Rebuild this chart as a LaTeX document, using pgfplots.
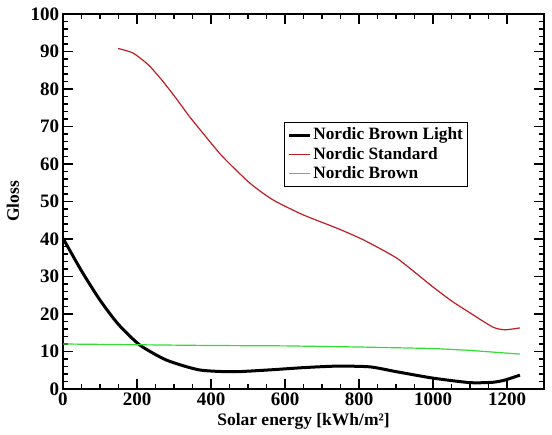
\documentclass[border=0pt]{standalone}
\usepackage{fontspec}
\setmainfont{Liberation Serif}
\usepackage{pgfplots}
\pgfplotsset{compat=1.18}
\definecolor{nred}{RGB}{190,30,35}
\definecolor{ngreen}{RGB}{50,220,50}
\begin{document}
\fontsize{17bp}{19.5bp}\selectfont\bfseries
\begin{tikzpicture}
\begin{axis}[
 scale only axis, width=481bp, height=375bp,
 xmin=0, xmax=1300, ymin=0, ymax=100,
 xtick={0,200,...,1200}, ytick={0,10,...,100},
 minor x tick num=3, minor y tick num=4,
 tick align=inside, xtick pos=both, ytick pos=both,
 major tick length=10bp, minor tick length=5bp,
 every tick/.style={black, line width=1.2bp},
 axis line style={line width=1.5bp},
 tick label style={font=\fontsize{19bp}{21bp}\selectfont\bfseries},
 /pgf/number format/assume math mode=true,
 /pgf/number format/1000 sep={},
 xticklabel style={yshift=2bp},
 yticklabel style={xshift=2bp},
 label style={font=\fontsize{17.5bp}{19bp}\selectfont\bfseries},
 xlabel={Solar energy [kWh/m²]},
 ylabel={Gloss},
 xlabel style={yshift=4bp},
 legend style={at={(0.459,0.712)}, anchor=north west, draw=black, line width=1bp,
   font=\fontsize{17.3bp}{19bp}\selectfont\bfseries, inner xsep=3bp, inner ysep=3bp,
   nodes={inner ysep=2.4bp, inner xsep=2bp}},
 legend cell align=left,
 legend image code/.code={\draw[#1] (0bp,0bp) -- (21bp,0bp);},
]
\addplot[black, line width=3bp, smooth, tension=0.4] coordinates {
 (0,40.2) (50,31.5) (100,23.7) (150,17.2) (208,11.7) (280,7.7) (368,5.1) (460,4.6)
 (559,5.1) (650,5.7) (740,6.1) (830,5.9) (902,4.6) (1000,2.9) (1100,1.7) (1162,1.8) (1195,2.4) (1235,3.7)};
\addlegendentry{Nordic Brown Light}
\addplot[nred, line width=1.2bp, smooth, tension=0.4] coordinates {
 (149,90.8) (189,89.6) (230,86.5) (267,82.4) (305,77.6) (343,72.5) (390,66.8) (432,61.9) (505,54.9) (568,50.4)
 (650,46.4) (740,42.9) (803,40.2) (850,37.8) (902,34.9) (950,31.2) (1000,27.2) (1050,23.5) (1100,20.3) (1162,16.5) (1195,15.8) (1235,16.3)};
\addlegendentry{Nordic Standard}
\addplot[ngreen, line width=1.2bp] coordinates {
 (0,12.0) (200,11.8) (400,11.6) (600,11.5) (800,11.2) (1000,10.8) (1100,10.3) (1235,9.3)};
\addlegendentry{Nordic Brown}
\end{axis}
\path (current axis.south west) ++(-63bp,-42bp) (current axis.north east) ++(8bp,14bp);
\end{tikzpicture}
\end{document}
